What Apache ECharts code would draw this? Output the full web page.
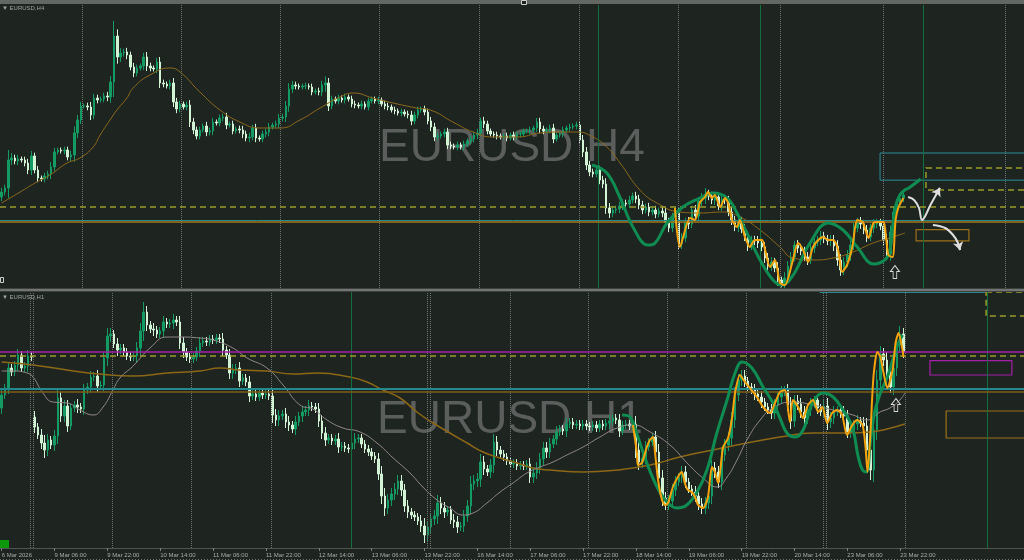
<!DOCTYPE html>
<html><head><meta charset="utf-8">
<script src="https://cdn.jsdelivr.net/npm/echarts@6/dist/echarts.min.js"></script>
<style>html,body{margin:0;padding:0;background:#1e2521;}#c{width:1024px;height:560px;}</style>
</head><body><div id="c"></div>
<script>
// ================= DATA =================
// H1 time-axis tick labels (every 16th hourly bar, starting 6 Mar 14:00)
const h1Ticks = ['6 Mar 2026','9 Mar 06:00','9 Mar 22:00','10 Mar 14:00','11 Mar 06:00','11 Mar 22:00','12 Mar 14:00','13 Mar 06:00','13 Mar 22:00','16 Mar 14:00','17 Mar 06:00','17 Mar 22:00','18 Mar 14:00','19 Mar 06:00','19 Mar 22:00','20 Mar 14:00','23 Mar 06:00','23 Mar 22:00'];

// EURUSD H4 closes
const topClose = [
1.16176,1.16224,1.16560,1.16584,1.16548,1.16572,1.16560,1.16524,1.16440,1.16608,
1.16440,1.16344,1.16332,1.16368,1.16392,1.16476,1.16656,1.16680,1.16668,1.16680,
1.16596,1.16620,1.16884,1.17040,1.17208,1.17208,1.17196,1.17100,1.17304,1.17280,
1.17292,1.17328,1.17316,1.17496,1.18048,1.17796,1.17844,1.17856,1.17820,1.17676,
1.17604,1.17664,1.17688,1.17796,1.17688,1.17664,1.17652,1.17736,1.17484,1.17472,
1.17448,1.17484,1.17256,1.17172,1.17232,1.17196,1.17220,1.17016,1.16920,1.16848,
1.16920,1.16968,1.16896,1.16908,1.17016,1.17004,1.17064,1.17076,1.16980,1.16992,
1.16908,1.16932,1.16920,1.16872,1.16824,1.16836,1.16944,1.16824,1.16812,1.16872,
1.16896,1.16956,1.16980,1.16992,1.17064,1.17076,1.17208,1.17412,1.17460,1.17448,
1.17436,1.17448,1.17448,1.17436,1.17376,1.17388,1.17376,1.17460,1.17484,1.17208,
1.17292,1.17268,1.17304,1.17280,1.17316,1.17292,1.17232,1.17220,1.17208,1.17232,
1.17196,1.17268,1.17292,1.17268,1.17280,1.17232,1.17208,1.17196,1.17160,1.17148,
1.17124,1.17136,1.17112,1.17100,1.17028,1.17100,1.17160,1.17172,1.17136,1.17028,
1.16956,1.16836,1.16848,1.16872,1.16896,1.16740,1.16728,1.16716,1.16740,1.16716,
1.16752,1.16788,1.16812,1.16860,1.16884,1.17028,1.16992,1.16908,1.16872,1.16860,
1.16848,1.16836,1.16848,1.16824,1.16860,1.16836,1.16872,1.16872,1.16908,1.16908,
1.16920,1.16944,1.17016,1.16932,1.16908,1.16920,1.16944,1.16812,1.16860,1.16872,
1.16920,1.16944,1.16956,1.16968,1.16980,1.16800,1.16656,1.16500,1.16416,1.16392,
1.16440,1.16320,1.16272,1.15984,1.15924,1.15960,1.15972,1.16008,1.16044,1.16032,
1.16080,1.16128,1.16092,1.16020,1.15960,1.15996,1.15936,1.15960,1.15912,1.15948,
1.15924,1.15816,1.15744,1.15876,1.15924,1.15552,1.15624,1.15816,1.15792,1.15960,
1.15888,1.16068,1.16104,1.16152,1.16128,1.16080,1.16116,1.16008,1.16092,1.16080,
1.15936,1.15840,1.15756,1.15828,1.15732,1.15648,1.15528,1.15600,1.15588,1.15564,
1.15516,1.15384,1.15288,1.15336,1.15264,1.15120,1.15072,1.15144,1.15288,1.15396,
1.15540,1.15504,1.15468,1.15396,1.15360,1.15504,1.15576,1.15600,1.15648,1.15612,
1.15588,1.15600,1.15528,1.15360,1.15240,1.15336,1.15420,1.15540,1.15744,1.15816,
1.15792,1.15720,1.15636,1.15744,1.15792,1.15804,1.15768,1.15600,1.15432,1.15696,
1.15936,1.16032,1.16104,1.16140];
// H4 wick lengths (pips)
const topWick = [
5,4,12,6,4,5,3,4,5,6,4,5,3,4,4,6,5,3,3,4,
4,5,8,6,5,3,4,6,5,4,3,4,5,7,18,8,6,4,5,4,
5,4,3,5,6,4,3,5,6,4,3,4,6,5,4,3,4,6,5,4,
4,3,5,4,5,3,4,4,5,3,4,3,4,5,4,5,4,5,3,4,
4,5,3,4,5,4,6,7,5,4,3,3,4,3,4,3,4,5,8,6,
4,3,4,3,4,3,4,4,3,4,3,4,3,3,4,3,4,4,3,4,
3,4,3,4,5,4,4,3,4,4,5,5,4,3,4,5,4,3,4,3,
4,3,4,4,5,4,5,4,3,3,4,3,3,4,3,4,3,4,3,3,
4,3,5,5,4,3,4,5,3,3,4,3,4,3,4,5,6,6,5,4,
4,5,5,7,6,5,4,5,5,4,5,4,5,5,5,4,5,4,5,4,
5,6,5,5,8,6,6,5,6,5,6,5,6,7,5,5,6,5,6,5,
5,6,5,6,5,6,6,5,5,6,5,6,6,6,5,7,4,7,6,6,
5,6,5,5,6,5,6,5,6,5,5,6,6,7,7,6,6,7,6,5,
6,5,6,5,6,5,5,6,7,8,7,6,5,5];
const topOpenGap = {0: 1.16116};

// EURUSD H1 closes
const h1Close = [
1.15805,1.15840,1.15940,1.15920,1.15955,1.16005,1.15940,1.15950,1.16000,1.15995,
1.15645,1.15605,1.15565,1.15530,1.15580,1.15555,1.15600,1.15790,1.15700,1.15750,
1.15650,1.15740,1.15755,1.15745,1.15735,1.15830,1.15845,1.15895,1.15900,1.15850,
1.15855,1.15990,1.16100,1.16110,1.16060,1.16030,1.16040,1.16020,1.16000,1.15995,
1.16000,1.16040,1.16125,1.16220,1.16155,1.16135,1.16130,1.16110,1.16125,1.16170,
1.16160,1.16165,1.16180,1.16170,1.16065,1.16020,1.15995,1.15985,1.15995,1.16025,
1.16065,1.16075,1.16070,1.16085,1.16080,1.16090,1.16085,1.16030,1.16005,1.15915,
1.15930,1.15940,1.15875,1.15890,1.15870,1.15800,1.15810,1.15795,1.15815,1.15805,
1.15810,1.15800,1.15705,1.15680,1.15700,1.15710,1.15670,1.15655,1.15635,1.15670,
1.15700,1.15720,1.15730,1.15750,1.15745,1.15735,1.15675,1.15615,1.15580,1.15590,
1.15575,1.15585,1.15545,1.15550,1.15540,1.15535,1.15565,1.15585,1.15590,1.15560,
1.15535,1.15520,1.15500,1.15485,1.15410,1.15300,1.15240,1.15280,1.15310,1.15335,
1.15375,1.15330,1.15250,1.15220,1.15205,1.15195,1.15175,1.15150,1.15105,1.15145,
1.15185,1.15200,1.15265,1.15240,1.15220,1.15230,1.15180,1.15170,1.15145,1.15150,
1.15200,1.15250,1.15360,1.15375,1.15385,1.15470,1.15435,1.15420,1.15455,1.15570,
1.15530,1.15510,1.15495,1.15475,1.15460,1.15465,1.15450,1.15455,1.15450,1.15460,
1.15395,1.15415,1.15440,1.15485,1.15540,1.15520,1.15560,1.15585,1.15620,1.15635,
1.15625,1.15660,1.15670,1.15655,1.15660,1.15650,1.15660,1.15650,1.15645,1.15655,
1.15640,1.15660,1.15650,1.15665,1.15675,1.15690,1.15680,1.15625,1.15655,1.15660,
1.15650,1.15660,1.15530,1.15470,1.15490,1.15545,1.15570,1.15595,1.15520,1.15390,
1.15290,1.15260,1.15275,1.15330,1.15370,1.15395,1.15420,1.15370,1.15335,1.15320,
1.15300,1.15260,1.15240,1.15265,1.15300,1.15440,1.15420,1.15370,1.15505,1.15555,
1.15590,1.15680,1.15805,1.15880,1.15900,1.15875,1.15845,1.15830,1.15810,1.15795,
1.15770,1.15745,1.15730,1.15715,1.15755,1.15795,1.15820,1.15830,1.15755,1.15675,
1.15775,1.15760,1.15720,1.15690,1.15730,1.15760,1.15780,1.15740,1.15720,1.15750,
1.15670,1.15690,1.15720,1.15730,1.15720,1.15700,1.15620,1.15630,1.15660,1.15675,
1.15665,1.15650,1.15530,1.15430,1.15630,1.15880,1.16010,1.15980,1.15905,1.15845,
1.15940,1.16055,1.16110,1.16020];
// H1 wick lengths (pips)
const h1Wick = [
3,2,3,2,2,3,2,2,3,2,3,2,3,4,3,2,3,4,3,3,
3,2,2,3,2,3,2,3,2,3,2,3,4,3,2,3,2,2,2,2,
2,3,4,5,3,2,3,2,2,3,2,2,3,2,3,3,2,2,2,2,
3,2,2,2,2,2,2,3,2,3,3,2,3,2,2,3,2,2,2,2,
2,2,4,3,3,2,3,3,2,3,2,3,2,3,2,2,3,3,3,2,
2,2,3,2,2,2,3,3,2,2,2,2,2,2,3,4,4,3,3,3,
3,3,3,3,2,2,2,3,4,3,3,3,4,3,3,2,2,3,3,2,
3,3,4,3,3,4,3,2,3,4,3,2,2,2,2,2,2,2,2,2,
3,3,3,3,3,3,3,2,3,2,2,3,2,2,2,2,2,2,2,2,
2,2,2,2,3,2,2,3,2,2,2,2,4,4,3,3,2,2,3,4,
4,3,3,3,3,2,3,3,2,2,3,3,3,3,3,4,3,3,4,3,
3,4,4,3,3,3,2,2,3,2,3,2,2,3,3,2,3,2,3,4,
3,3,3,3,3,3,2,3,2,3,4,3,3,2,3,3,3,3,2,3,
2,3,4,5,6,5,4,3,4,3,4,4,4,3];
const h1OpenGap = {0: 1.15740, 10: 1.15695};

// Indicator lines: [bar index, price]
const topMA = [[0,1.16044],[5.6,1.16176],[10.1,1.16284],[14.6,1.16380],[19.8,1.16524],[23.7,1.16584],[27.7,1.16716],[29.8,1.16860],[32.8,1.17040],[34.9,1.17160],[37.9,1.17304],[39.8,1.17424],[44.9,1.17580],[51.0,1.17664],[54.0,1.17616],[60.0,1.17376],[66.1,1.17160],[72.1,1.17016],[78.2,1.16944],[84.3,1.16944],[90.3,1.17040],[96.4,1.17184],[102.4,1.17316],[106.4,1.17364],[112.4,1.17304],[118.5,1.17244],[125.7,1.17184],[129.7,1.17160],[136.6,1.17016],[142.7,1.16896],[148.7,1.16836],[156.0,1.16836],[163.0,1.16884],[169.0,1.16896],[174.2,1.16896],[179.0,1.16836],[183.2,1.16716],[187.2,1.16524],[193.2,1.16200],[198.4,1.16044],[205.3,1.15936],[211.4,1.15924],[218.4,1.15936],[223.5,1.15876],[229.6,1.15720],[235.6,1.15516],[239.5,1.15384],[245.6,1.15360],[251.7,1.15384],[257.7,1.15456],[263.8,1.15564],[268.9,1.15624],[273.4,1.15684]];
const topZig = [[203.8,1.15984],[205.3,1.15516],[208.4,1.15864],[209.9,1.15840],[211.4,1.16056],[212.9,1.16116],[213.8,1.16176],[215.0,1.16104],[215.9,1.16140],[217.5,1.15996],[219.0,1.16104],[219.9,1.16044],[221.1,1.15840],[222.6,1.15756],[223.5,1.15840],[225.0,1.15636],[226.5,1.15516],[228.0,1.15600],[230.2,1.15600],[231.1,1.15480],[232.6,1.15276],[234.1,1.15360],[235.6,1.15084],[237.1,1.15060],[239.3,1.15324],[241.1,1.15564],[242.6,1.15480],[244.1,1.15336],[245.6,1.15516],[247.2,1.15600],[248.7,1.15636],[250.2,1.15600],[251.7,1.15600],[253.2,1.15480],[254.4,1.15216],[255.9,1.15300],[257.5,1.15516],[259.0,1.15840],[260.6,1.15816],[261.5,1.15720],[262.4,1.15624],[263.9,1.15804],[265.4,1.15816],[266.9,1.15816],[268.4,1.15420],[269.7,1.15396],[270.6,1.15840],[271.5,1.15996],[273.0,1.16104]];
const topWave = [[178.7,1.16500],[183.2,1.16404],[187.1,1.16116],[191.1,1.15756],[195.6,1.15540],[197.7,1.15560],[201.4,1.15804],[206.2,1.15996],[211.4,1.16104],[215.3,1.16164],[219.6,1.16104],[222.6,1.15924],[225.6,1.15684],[229.6,1.15360],[233.5,1.15120],[236.2,1.15060],[239.6,1.15180],[244.7,1.15564],[250.2,1.15804],[254.7,1.15720],[259.0,1.15516],[263.9,1.15312],[267.6,1.15370],[269.0,1.15500],[269.8,1.15780],[270.7,1.16020],[271.9,1.16140],[273.4,1.16200],[274.6,1.16224],[278.2,1.16332]];
const h1MAfast = [[0,1.15925],[3.4,1.15925],[7.7,1.15915],[9.5,1.15895],[12.5,1.15815],[15.5,1.15770],[19.8,1.15765],[23.7,1.15730],[27.7,1.15705],[30.7,1.15745],[33.7,1.15830],[35.8,1.15890],[39.8,1.15950],[44.9,1.16040],[50.1,1.16095],[54.0,1.16095],[60.0,1.16090],[64.0,1.16080],[70.0,1.16040],[74.3,1.15990],[80.3,1.15940],[85.2,1.15855],[90.3,1.15755],[94.2,1.15735],[98.5,1.15680],[103.3,1.15640],[108.5,1.15620],[113.6,1.15565],[118.5,1.15490],[123.6,1.15415],[127.5,1.15345],[131.8,1.15280],[135.7,1.15240],[139.6,1.15205],[142.7,1.15215],[146.9,1.15265],[150.9,1.15320],[154.8,1.15365],[159.0,1.15415],[163.0,1.15445],[166.9,1.15470],[171.1,1.15505],[176.0,1.15545],[181.1,1.15595],[186.3,1.15640],[191.1,1.15655],[196.3,1.15620],[202.3,1.15555],[207.5,1.15465],[212.3,1.15390],[216.5,1.15345],[219.6,1.15395],[222.6,1.15480],[225.6,1.15580],[229.6,1.15680],[233.5,1.15740],[239.5,1.15770],[245.6,1.15755],[251.7,1.15730],[257.7,1.15705],[261.9,1.15680],[265.9,1.15720],[268.9,1.15740],[271.9,1.15780],[273.4,1.15815]];
const h1MAslow = [[0,1.15970],[9.5,1.15955],[19.8,1.15930],[29.8,1.15910],[39.8,1.15900],[50.1,1.15915],[60.0,1.15925],[66.1,1.15940],[72.1,1.15930],[80.3,1.15925],[88.2,1.15910],[95.5,1.15915],[105.4,1.15895],[110.6,1.15870],[115.4,1.15830],[120.6,1.15790],[125.7,1.15720],[130.6,1.15665],[135.7,1.15615],[140.9,1.15565],[145.7,1.15520],[150.9,1.15490],[156.0,1.15465],[160.8,1.15440],[166.0,1.15430],[176.0,1.15420],[186.3,1.15430],[196.3,1.15455],[205.3,1.15495],[215.3,1.15530],[225.6,1.15565],[235.6,1.15595],[245.6,1.15615],[255.9,1.15615],[262.8,1.15620],[268.0,1.15635],[273.4,1.15660]];
const h1Zig = [[191.1,1.15655],[192.3,1.15515],[192.6,1.15455],[193.8,1.15465],[195.3,1.15545],[196.2,1.15580],[197.2,1.15595],[197.8,1.15515],[198.7,1.15380],[199.9,1.15280],[200.8,1.15255],[201.7,1.15265],[203.2,1.15345],[204.7,1.15395],[205.9,1.15420],[206.8,1.15365],[207.7,1.15330],[208.9,1.15320],[209.9,1.15295],[210.8,1.15255],[212.3,1.15240],[213.8,1.15295],[215.0,1.15445],[215.9,1.15420],[216.9,1.15365],[218.4,1.15545],[219.9,1.15590],[221.1,1.15690],[222.0,1.15815],[223.5,1.15905],[225.0,1.15870],[226.5,1.15840],[228.6,1.15795],[230.5,1.15745],[232.6,1.15715],[234.1,1.15765],[235.6,1.15820],[237.1,1.15830],[238.6,1.15670],[239.5,1.15780],[241.1,1.15745],[242.6,1.15690],[244.1,1.15755],[245.6,1.15780],[247.2,1.15720],[248.4,1.15745],[249.9,1.15665],[251.4,1.15715],[252.9,1.15730],[254.4,1.15705],[255.9,1.15605],[257.5,1.15655],[259.0,1.15680],[260.6,1.15655],[261.5,1.15545],[262.1,1.15420],[263.0,1.15620],[263.9,1.15895],[265.1,1.16020],[266.0,1.15995],[266.9,1.15920],[268.1,1.15840],[269.7,1.15930],[270.6,1.16065],[271.5,1.16115],[272.7,1.16030],[273.0,1.15995]];
const h1Wave = [[187.8,1.15705],[190.2,1.15695],[192.6,1.15595],[195.3,1.15465],[198.4,1.15345],[201.4,1.15270],[204.4,1.15240],[207.4,1.15255],[210.5,1.15320],[213.5,1.15430],[216.5,1.15615],[219.6,1.15780],[222.0,1.15915],[224.1,1.15970],[227.1,1.15940],[230.5,1.15845],[233.5,1.15765],[235.6,1.15690],[237.7,1.15615],[240.2,1.15595],[242.6,1.15630],[245.6,1.15770],[248.7,1.15815],[251.7,1.15795],[254.7,1.15730],[257.5,1.15645],[259.3,1.15495],[260.6,1.15430],[261.8,1.15420],[262.9,1.15560],[264.2,1.15715],[266.0,1.15815],[268.1,1.15895],[269.7,1.15980],[271.2,1.16055],[272.7,1.16105]];

// Price levels
const levelDashed = 1.16000, levelTeal = 1.15835, levelOrange = 1.15822, levelMagenta = 1.16020;
// Vertical separators (bar index)
const topWeekLines = [24.3,54.3,84.3,114.2,144.5,174.8,204.7,235.6,266.8,303.7];
const topGreenLines = [180.5,229.6,278.9];
const h1DayLines = [8.6,9.5,33.4,57.3,81.5,128.8,129.7,153.9,177.5,201.4,225.3,248.6,249.5,273.4];
const h1GreenLines = [105.7,298.3];
// Boxes: [fromBar, toBar, priceHigh, priceLow]
const topTealBox = [265.9, 314, 1.16644, 1.16318];
const topDashBox = [279.8, 314, 1.16464, 1.16200];
const topBrownBox = [276.8, 292.8, 1.15725, 1.15590];
const h1TealBox = [247.7, 297.7, 1.16644, 1.16318];
const h1DashBox = [298.0, 314, 1.16464, 1.16200];
const h1MagentaBox = [281.0, 305.8, 1.15977, 1.15905];
const h1BrownBox = [285.9, 314, 1.15725, 1.15590];
// Hand-drawn projection arrows (path points, and the short head segments)
const topArrowA = [[274.4,1.16116],[276.2,1.16080],[277.7,1.15984],[278.6,1.15840],[281.3,1.16032],[284.0,1.16224]];
const topArrowAHead = [[282.8,1.16140],[284.0,1.16224]];
const topArrowB = [[281.9,1.15780],[285.6,1.15744],[288.0,1.15660],[289.5,1.15564],[290.1,1.15480]];
const topArrowBHead = [[289.8,1.15528],[290.1,1.15480]];
const upArrowTop = [270.4, 1.15216];
const upArrowH1 = [270.7, 1.15755];

// ================= CHART =================
const N = 313;
const cats = Array.from({length: N}, (_, i) => String(i));
function buildCandles(close, wick, gaps) {
  return close.map((c, i) => {
    const o = (gaps[i] !== undefined) ? gaps[i] : close[i - 1];
    const w = (wick[i] || 0) * 0.0001;
    return [o, c, Math.min(o, c) - w, Math.max(o, c) + w];
  });
}
const FONT = '"Liberation Sans", Arial, sans-serif';
const clear = 'rgba(0,0,0,0)';
const tickShow = (i) => i % 16 === 0 && i / 16 < h1Ticks.length;
const candleStyle = {color:'#139b63', color0:'#d3f3d5', borderColor:'#139b63', borderColor0:'#d3f3d5', borderWidth:1};
const dotted = {color:'#6f7370', type:'dotted', width:1};
const greenV = {color:'#12703f', type:'solid', width:1};
const ARROW = 'path://M5,0 L10,6 L7,6 L7,13 L3,13 L3,6 L0,6 Z';
const ARROW_C = '#dedede';
function box(b, style) { return [{xAxis:b[0], yAxis:b[2], itemStyle:style}, {xAxis:b[1], yAxis:b[3]}]; }

const topMarks = {
  type:'line', xAxisIndex:1, yAxisIndex:0, data:[], silent:true, z:1,
  markLine:{silent:true, symbol:'none', precision:6, animation:false, label:{show:false}, data:[
    ...topWeekLines.map(v => ({xAxis:v, lineStyle:dotted})),
    ...topGreenLines.map(v => ({xAxis:v, lineStyle:greenV}))
  ]}
};
const topObjects = {
  type:'line', xAxisIndex:1, yAxisIndex:0, data:[], silent:true, z:7,
  markLine:{silent:true, symbol:'none', precision:6, animation:false, label:{show:false}, data:[
    {yAxis:levelDashed, lineStyle:{color:'#9a9b2b', type:[6,4], width:1.5}},
    {yAxis:levelTeal, lineStyle:{color:'#23898d', type:'solid', width:1}},
    {yAxis:levelOrange, lineStyle:{color:'#a6761c', type:'solid', width:1.5}}
  ]},
  markArea:{silent:true, animation:false, label:{show:false}, data:[
    box(topTealBox, {color:clear, borderColor:'#2a8f96', borderWidth:1}),
    box(topDashBox, {color:clear, borderColor:'#9a9b2b', borderWidth:1.5, borderType:[6,4]}),
    box(topBrownBox, {color:clear, borderColor:'#9c7019', borderWidth:1.2})
  ]},
  markPoint:{silent:true, animation:false, label:{show:false}, data:[
    {coord:upArrowTop, symbol:ARROW, symbolSize:[9,13], itemStyle:{color:clear, borderColor:'#d8d8d8', borderWidth:1}}
  ]}
};
function arrowSeries(path, head) {
  return {
    type:'line', xAxisIndex:1, yAxisIndex:0, data:path, smooth:0.35, symbol:'none', silent:true, z:8,
    lineStyle:{color:ARROW_C, width:2},
    markLine:{silent:true, symbol:['none','arrow'], symbolSize:8, precision:6, animation:false, label:{show:false},
      lineStyle:{color:ARROW_C, width:2, type:'solid'},
      data:[[{coord:head[0]}, {coord:head[1]}]]}
  };
}

const h1Marks = {
  type:'line', xAxisIndex:3, yAxisIndex:1, data:[], silent:true, z:1,
  markLine:{silent:true, symbol:'none', precision:6, animation:false, label:{show:false}, data:[
    ...h1DayLines.map(v => ({xAxis:v, lineStyle:dotted})),
    ...h1GreenLines.map(v => ({xAxis:v, lineStyle:greenV}))
  ]}
};
const h1Objects = {
  type:'line', xAxisIndex:3, yAxisIndex:1, data:[], silent:true, z:7,
  markLine:{silent:true, symbol:'none', precision:6, animation:false, label:{show:false}, data:[
    {yAxis:levelMagenta, lineStyle:{color:'#a51fa8', type:'solid', width:1.5}},
    {yAxis:levelDashed, lineStyle:{color:'#9a9b2b', type:[6,4], width:1.5}},
    {yAxis:levelTeal, lineStyle:{color:'#23898d', type:'solid', width:2}},
    {yAxis:levelOrange, lineStyle:{color:'#7e5c19', type:'solid', width:1.5}}
  ]},
  markArea:{silent:true, animation:false, label:{show:false}, data:[
    box(h1TealBox, {color:clear, borderColor:'#2a8f96', borderWidth:1}),
    box(h1DashBox, {color:clear, borderColor:'#9a9b2b', borderWidth:1.5, borderType:[6,4]}),
    box(h1MagentaBox, {color:clear, borderColor:'#a51fa8', borderWidth:1.2}),
    box(h1BrownBox, {color:clear, borderColor:'#9c7019', borderWidth:1.2})
  ]},
  markPoint:{silent:true, animation:false, label:{show:false}, data:[
    {coord:upArrowH1, symbol:ARROW, symbolSize:[9,13], itemStyle:{color:clear, borderColor:'#d8d8d8', borderWidth:1}}
  ]}
};

const option = {
  backgroundColor:'#1e2521',
  animation:false,
  grid:[
    {left:0, right:-10, top:5, height:283, outerBoundsMode:'none'},
    {left:0, right:-10, top:292, height:256, outerBoundsMode:'none'}
  ],
  xAxis:[
    {type:'category', gridIndex:0, data:cats, boundaryGap:true, show:false},
    {type:'value', gridIndex:0, min:-0.5, max:N-0.5, show:false},
    {type:'category', gridIndex:1, data:cats, boundaryGap:true,
      axisLine:{show:true, lineStyle:{color:'#4f5451', width:1}},
      axisTick:{show:true, interval:tickShow, alignWithLabel:true, length:3, lineStyle:{color:'#7d817e'}},
      axisLabel:{show:true, interval:tickShow, formatter:(v) => h1Ticks[Number(v) / 16], color:'#a9aba9', fontSize:6, fontFamily:FONT, align:'left', margin:4},
      splitLine:{show:false}},
    {type:'value', gridIndex:1, min:-0.5, max:N-0.5, show:false}
  ],
  yAxis:[
    {type:'value', gridIndex:0, min:1.15024, max:1.18420, show:false},
    {type:'value', gridIndex:1, min:1.15040, max:1.16320, show:false}
  ],
  graphic:[
    {type:'text', x:512, y:148, z:0, silent:true, style:{text:'EURUSD H4', fill:'#5b5e5c', font:'46px ' + FONT, align:'center', verticalAlign:'middle'}},
    {type:'text', x:510, y:420, z:0, silent:true, style:{text:'EURUSD H1', fill:'#5b5e5c', font:'46px ' + FONT, align:'center', verticalAlign:'middle'}},
    {type:'rect', z:100, silent:true, shape:{x:0, y:0, width:1024, height:4}, style:{fill:'#626764'}},
    {type:'rect', z:101, silent:true, shape:{x:521.5, y:0.5, width:5, height:4}, style:{fill:'#202020', stroke:'#d0d0d0', lineWidth:1}},
    {type:'rect', z:100, silent:true, shape:{x:0, y:288, width:1024, height:4}, style:{fill:'#3c413e'}},
    {type:'rect', z:101, silent:true, shape:{x:0, y:289, width:1024, height:2}, style:{fill:'#727573'}},
    {type:'text', x:2, y:5, z:100, silent:true, style:{text:'\u25BC EURUSD,H4', fill:'#9fa29f', font:'6px ' + FONT}},
    {type:'text', x:2, y:294, z:100, silent:true, style:{text:'\u25BC EURUSD,H1', fill:'#9fa29f', font:'6px ' + FONT}},
    {type:'rect', z:100, silent:true, shape:{x:0, y:540, width:9, height:8}, style:{fill:'#0c9a0c'}},
    {type:'rect', z:100, silent:true, shape:{x:0.5, y:277.5, width:3, height:5}, style:{fill:clear, stroke:'#d0d0d0', lineWidth:1}},
    {type:'line', z:100, silent:true, shape:{x1:0, y1:559.5, x2:1024, y2:559.5}, style:{stroke:'#6a6e6b', lineWidth:1, lineDash:[1,2]}}
  ],
  series:[
    topMarks,
    {type:'candlestick', xAxisIndex:0, yAxisIndex:0, data:buildCandles(topClose, topWick, topOpenGap), barWidth:2, itemStyle:candleStyle, z:3, silent:true},
    {type:'line', xAxisIndex:1, yAxisIndex:0, data:topMA, smooth:0.5, symbol:'none', lineStyle:{color:'#8e681a', width:1}, z:4, silent:true},
    {type:'line', xAxisIndex:1, yAxisIndex:0, data:topWave, smooth:0.4, symbol:'none', lineStyle:{color:'#0f8c51', width:3}, z:5, silent:true},
    {type:'line', xAxisIndex:1, yAxisIndex:0, data:topZig, smooth:0.25, symbol:'none', lineStyle:{color:'#f4a30c', width:2}, z:6, silent:true},
    topObjects,
    arrowSeries(topArrowA, topArrowAHead),
    arrowSeries(topArrowB, topArrowBHead),
    h1Marks,
    {type:'candlestick', xAxisIndex:2, yAxisIndex:1, data:buildCandles(h1Close, h1Wick, h1OpenGap), barWidth:2, itemStyle:candleStyle, z:3, silent:true},
    {type:'line', xAxisIndex:3, yAxisIndex:1, data:h1MAslow, smooth:0.5, symbol:'none', lineStyle:{color:'#8b6716', width:1.5}, z:4, silent:true},
    {type:'line', xAxisIndex:3, yAxisIndex:1, data:h1MAfast, smooth:0.5, symbol:'none', lineStyle:{color:'#938789', width:1}, z:4, silent:true},
    {type:'line', xAxisIndex:3, yAxisIndex:1, data:h1Wave, smooth:0.4, symbol:'none', lineStyle:{color:'#0f8c51', width:3}, z:5, silent:true},
    {type:'line', xAxisIndex:3, yAxisIndex:1, data:h1Zig, smooth:0.25, symbol:'none', lineStyle:{color:'#f4a30c', width:2}, z:6, silent:true},
    h1Objects
  ]
};
const chart = echarts.init(document.getElementById('c'), null, {renderer:'canvas'});
chart.setOption(option);
</script>
</body></html>
